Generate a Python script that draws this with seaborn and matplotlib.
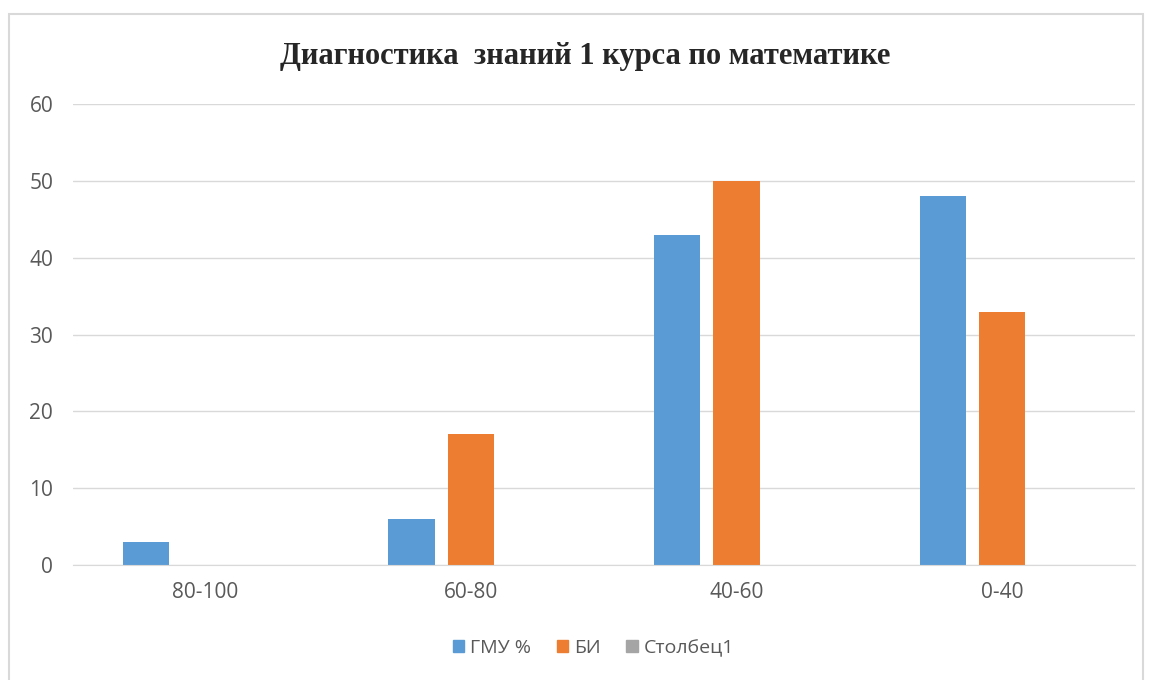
import matplotlib.pyplot as plt
import seaborn as sns
import pandas as pd
from matplotlib.patches import Rectangle

categories = ["80-100", "60-80", "40-60", "0-40"]
gmu = [3, 6, 43, 48]
bi = [0, 17, 50, 33]
col1 = [0, 0, 0, 0]
series = ["ГМУ %", "БИ", "Столбец1"]
colors = ["#5B9BD5", "#ED7D31", "#A5A5A5"]

df = pd.DataFrame({
    "cat": categories * 3,
    "val": gmu + bi + col1,
    "series": [series[0]] * 4 + [series[1]] * 4 + [series[2]] * 4,
})

sns.set_style("white")
plt.rcParams["font.family"] = ["Open Sans", "DejaVu Sans"]

fig = plt.figure(figsize=(11.52, 6.8), dpi=100)
ax = fig.add_axes([0.063, 0.169, 0.922, 0.678])

sns.barplot(data=df, x="cat", y="val", hue="series", order=categories,
            hue_order=series, palette=colors, width=0.67, gap=0.22,
            saturation=1, linewidth=0, ax=ax, legend=False)

ax.set_ylim(0, 60)
ax.set_yticks(range(0, 61, 10))
ax.set_xlim(-0.5, 3.5)
ax.yaxis.grid(True, color="#D9D9D9", linewidth=1)
ax.set_axisbelow(True)
for s in ["top", "right", "left"]:
    ax.spines[s].set_visible(False)
ax.spines["bottom"].set_color("#D9D9D9")
ax.tick_params(axis="both", length=0, labelsize=15, labelcolor="#595959")
ax.tick_params(axis="y", pad=14)
ax.tick_params(axis="x", pad=12)
ax.set_xlabel("")
ax.set_ylabel("")

fig.text(0.508, 0.917, "Диагностика  знаний 1 курса по математике",
         ha="center", va="center", fontsize=22, fontweight="bold",
         family=["Liberation Serif", "DejaVu Serif"])

handles = [Rectangle((0, 0), 1, 1, color=c) for c in colors]
fig.legend(handles, series, loc="center", bbox_to_anchor=(0.515, 0.047),
           ncol=3, frameon=False, fontsize=14, handlelength=0.6,
           handleheight=0.6, columnspacing=1.3, handletextpad=0.3,
           labelcolor="#595959")

fig.patches.append(Rectangle((0.008, -0.01), 0.984, 0.99, transform=fig.transFigure,
                             fill=False, edgecolor="#D9D9D9", linewidth=1.5))

fig.savefig("out.png", dpi=100)
